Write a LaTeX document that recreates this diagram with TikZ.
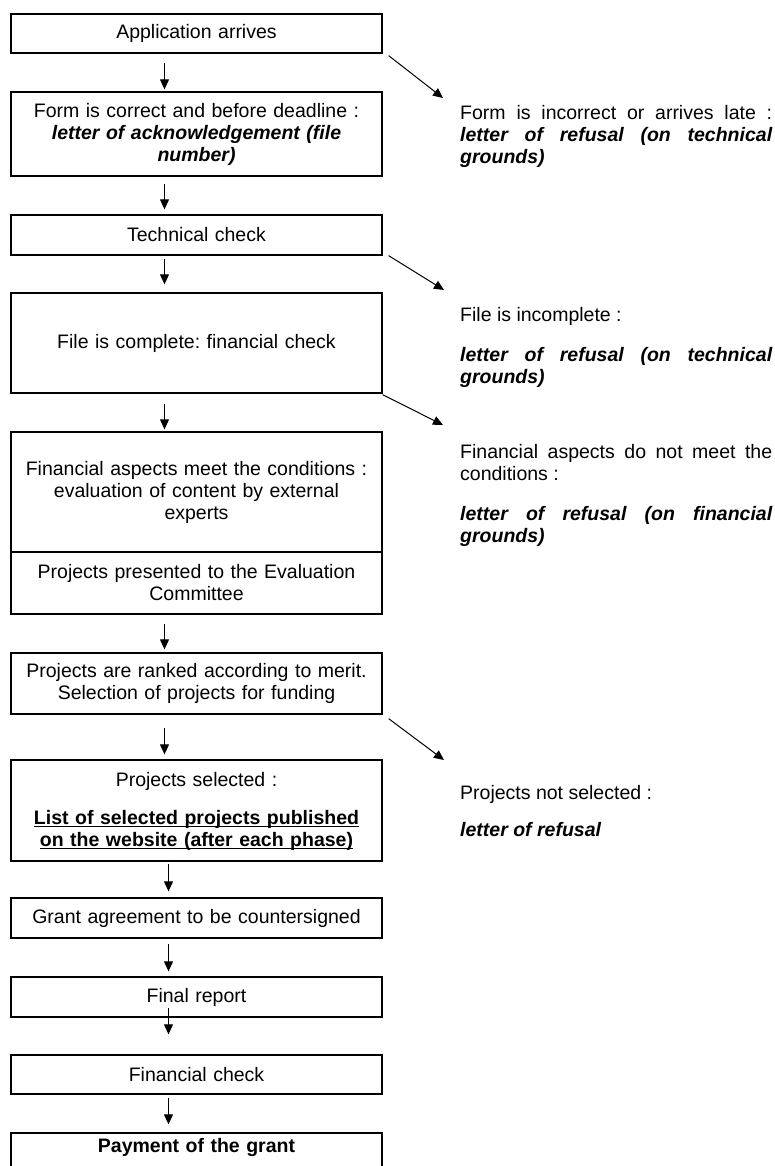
\documentclass[tikz,border=0pt]{standalone}
\usepackage{fontspec}
\setmainfont{Liberation Sans}
\usetikzlibrary{arrows.meta,positioning}
\setlength{\parindent}{0pt}
\frenchspacing
\tikzset{
  box/.style={draw,line width=1.3pt,minimum width=371pt,text width=351pt,inner xsep=10pt,inner ysep=0pt,align=center},
  side/.style={text width=312pt,inner sep=0pt,align=justify,anchor=north west},
  arr/.style={-{Triangle[length=10pt,width=9pt]},line width=1pt}
}

\begin{document}
\begin{tikzpicture}[x=1pt,y=-1pt,font=\fontsize{19.5}{22}\selectfont]
\useasboundingbox (0,0) rectangle (775,1166);

%Main column
\node[box,minimum height=39pt] (arrive) at (196.5,33.5) {Application arrives};
\node[box,minimum height=84pt] (form) at (196.5,134) {Form is correct and before deadline :\\ \textbf{\textit{letter of acknowledgement (file}}\\ \textbf{\textit{number)}}};
\node[box,minimum height=40pt] (techcheck) at (196.5,235) {Technical check};
\node[box,minimum height=100pt] (complete) at (196.5,343) {File is complete: financial check};
\node[box,minimum height=120pt] (finok) at (196.5,492) {Financial aspects meet the conditions :\\ evaluation of content by external\\ experts};
\node[box,minimum height=62pt] (committee) at (196.5,583) {Projects presented to the Evaluation\\ Committee};
\node[box,minimum height=61pt] (ranked) at (196.5,683.5) {Projects are ranked according to merit.\\ Selection of projects for funding};
\node[box,minimum height=101pt] (selected) at (196.5,810.5) {Projects selected :\\[16pt] \underline{\smash{\textbf{List of selected projects published}}}\\ \underline{\smash{\textbf{on the website (after each phase)}}}};
\node[box,minimum height=40pt] (grant) at (196.5,918) {Grant agreement to be countersigned};
\node[box,minimum height=40pt] (report) at (196.5,997) {Final report};
\node[box,minimum height=39pt] (fincheck) at (196.5,1074.5) {Financial check};
\node[box,text height=14pt,text depth=30pt,inner ysep=5pt] (payment) at (196.5,1160) {\textbf{Payment of the grant}};

%Refusals
\node[side] (formbad) at (460,105) {Form is incorrect or arrives late :\linebreak \textbf{\textit{letter of refusal (on technical\linebreak grounds)}}};
\node[side] (incomplete) at (460,307) {File is incomplete :\par\vspace{18pt}\textbf{\textit{letter of refusal (on technical\linebreak grounds)}}};
\node[side] (finbad) at (460,444) {Financial aspects do not meet the\linebreak conditions :\par\vspace{18pt}\textbf{\textit{letter of refusal (on financial\linebreak grounds)}}};
\node[side] (notsel) at (460,785) {Projects not selected :\par\vspace{15pt}\textbf{\textit{letter of refusal}}};

% Arrows down
\foreach \a/\b/\s/\e/\dx in {arrive/form/9/2/-32, form/techcheck/7/5/-32, techcheck/complete/3/8/-32, complete/finok/10/2/-32, committee/ranked/9/3/-32, ranked/selected/13/5/-32, selected/grant/2/6/-28, grant/report/5/5/-28, report/fincheck/-10/20/-28, fincheck/payment/3/8/-28}
\draw[arr] ([shift={(\dx,\s)}]\a.south) -- ([shift={(\dx,-\e)}]\b.north);

% Arrows out
\draw[arr] ([shift={(6,2)}]arrive.south east) -- ([shift={(-17,-7)}]formbad.north west);
\draw[arr] ([shift={(6,0)}]techcheck.south east) -- ([shift={(-16,-17)}]incomplete.north west);
\draw[arr] ([shift={(0,1)}]complete.south east) -- ([shift={(-17,-19)}]finbad.north west);
\draw[arr] ([shift={(6,4)}]ranked.south east) -- ([shift={(-16,-25)}]notsel.north west);

\end{tikzpicture}
\end{document}
